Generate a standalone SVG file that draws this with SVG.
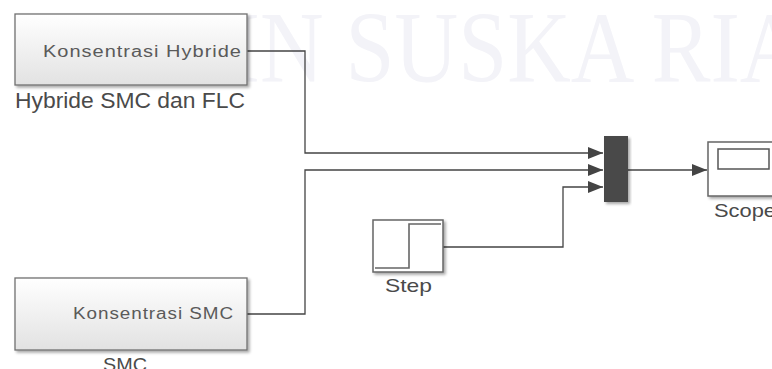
<svg xmlns="http://www.w3.org/2000/svg" width="772" height="369" viewBox="0 0 772 369">
  <defs>
    <linearGradient id="blockFill" x1="0" y1="0" x2="0" y2="1">
      <stop offset="0" stop-color="#ffffff"/>
      <stop offset="1" stop-color="#e2e2e2"/>
    </linearGradient>
    <filter id="shadow" x="-10%" y="-10%" width="125%" height="130%">
      <feGaussianBlur in="SourceAlpha" stdDeviation="1.5"/>
      <feOffset dx="2" dy="2" result="b"/>
      <feComponentTransfer><feFuncA type="linear" slope="0.35"/></feComponentTransfer>
      <feMerge><feMergeNode/><feMergeNode in="SourceGraphic"/></feMerge>
    </filter>
    <marker id="arrow" markerUnits="userSpaceOnUse" markerWidth="16" markerHeight="14" refX="15" refY="7" orient="auto">
      <path d="M0,1 L15,7 L0,13 Z" fill="#444"/>
    </marker>
  </defs>
  <style>
    .block { fill: url(#blockFill); stroke: #707070; stroke-width: 1.3; filter: url(#shadow); }
    .plain { fill: #ffffff; stroke: #666666; stroke-width: 1.5; filter: url(#shadow); }
    .inner { font-family: "Liberation Sans", Arial, sans-serif; font-size: 16px; fill: #5a5a5a; letter-spacing: 0.8px; }
    .label { font-family: "Liberation Sans", Arial, sans-serif; fill: #4a4a4a; }
    .wire { fill: none; stroke: #444; stroke-width: 1.3; }
    .watermark { font-family: "Liberation Serif", "Times New Roman", serif; font-size: 101px; fill: #f3f3f8; }
  </style>
  <rect width="772" height="369" fill="#ffffff"/>
  <text class="watermark" x="167" y="82" textLength="700" lengthAdjust="spacingAndGlyphs">UIN SUSKA RIAU</text>

  <g id="connectors">
    <path class="wire" d="M247,51 H305 V153 H603" marker-end="url(#arrow)"/>
    <path class="wire" d="M247,314 H305 V170 H603" marker-end="url(#arrow)"/>
    <path class="wire" d="M443,247 H563 V187 H603" marker-end="url(#arrow)"/>
    <path class="wire" d="M628,170 H707" marker-end="url(#arrow)"/>
  </g>

  <g id="hybride">
    <rect class="block" x="15" y="14" width="232" height="71"/>
    <text class="inner" x="43" y="57" textLength="199" lengthAdjust="spacingAndGlyphs">Konsentrasi Hybride</text>
    <text class="label" x="15" y="108" font-size="22" textLength="230" lengthAdjust="spacingAndGlyphs">Hybride SMC dan FLC</text>
  </g>

  <g id="smc">
    <rect class="block" x="15" y="278" width="232" height="72"/>
    <text class="inner" x="73" y="319" textLength="161" lengthAdjust="spacingAndGlyphs">Konsentrasi SMC</text>
    <text class="label" x="103" y="371" font-size="19" textLength="44" lengthAdjust="spacingAndGlyphs">SMC</text>
  </g>

  <g id="step">
    <rect class="plain" x="373" y="220" width="70" height="52"/>
    <path d="M375,268 H409 V224 H441" fill="none" stroke="#666" stroke-width="1.6"/>
    <text class="label" x="385" y="292" font-size="19" textLength="47" lengthAdjust="spacingAndGlyphs">Step</text>
  </g>

  <g id="mux">
    <rect x="604" y="136" width="24" height="66" fill="#4a4a4a" filter="url(#shadow)"/>
  </g>

  <g id="scope">
    <rect class="plain" x="708" y="142" width="70" height="54" stroke="#555"/>
    <rect x="718" y="149" width="51" height="20" fill="#ffffff" stroke="#555" stroke-width="1.5"/>
    <text class="label" x="714" y="217" font-size="18" textLength="62" lengthAdjust="spacingAndGlyphs">Scope</text>
  </g>
</svg>
